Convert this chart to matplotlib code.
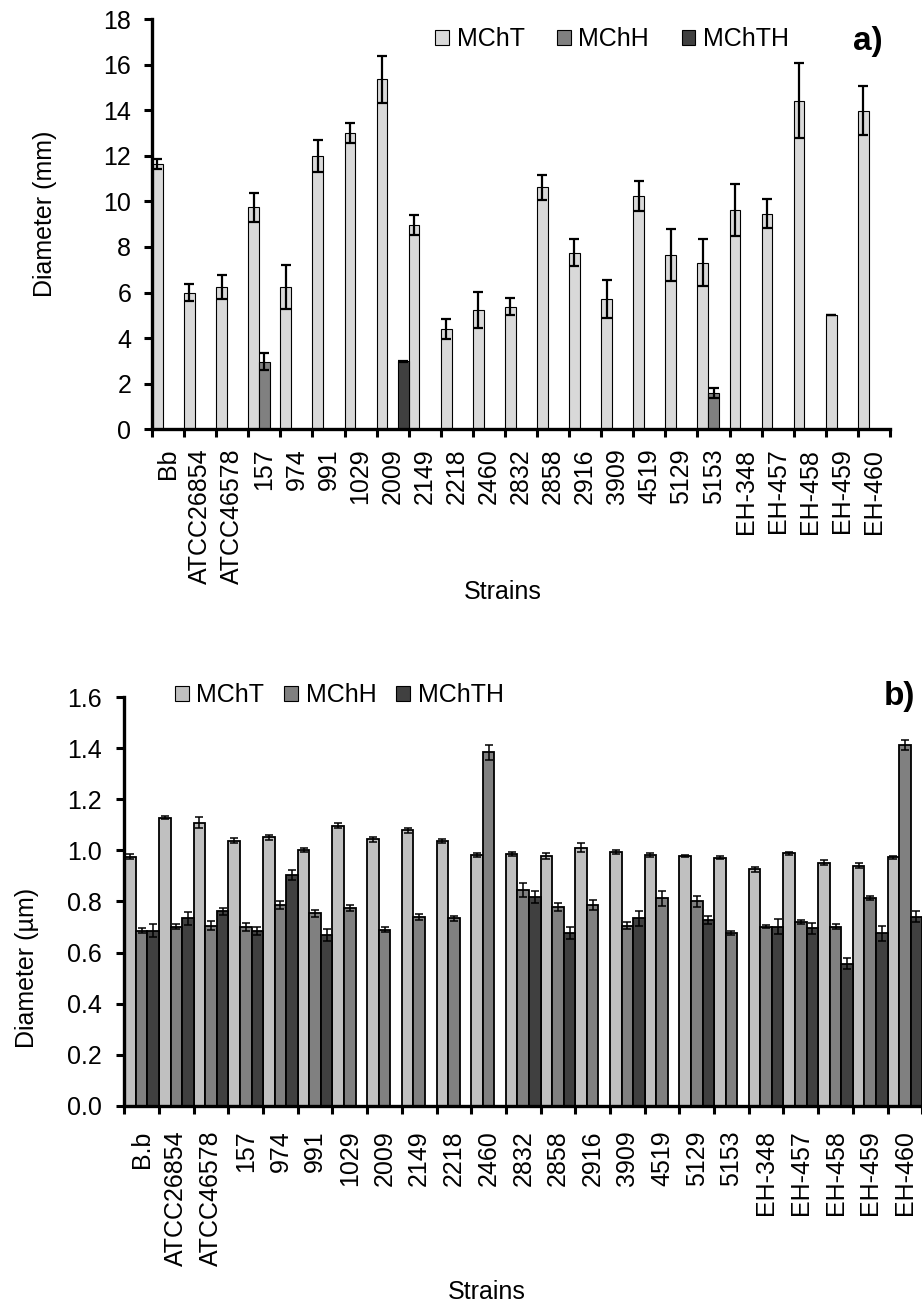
"""Colony and cell diameter of strains on three media, panels a) and b)."""
import numpy as np
import matplotlib
matplotlib.use('Agg')
import matplotlib.pyplot as plt
from matplotlib.patches import Patch

plt.rcParams['font.family'] = ['Liberation Sans', 'DejaVu Sans']
FS = 18

# Panel a data (colony diameter, mm)
strains_a = ['Bb', 'ATCC26854', 'ATCC46578', '157', '974', '991', '1029', '2009',
             '2149', '2218', '2460', '2832', '2858', '2916', '3909', '4519', '5129',
             '5153', 'EH-348', 'EH-457', 'EH-458', 'EH-459', 'EH-460']
nan = np.nan
mcht_a = [11.65, 6.0, 6.26, 9.74, 6.26, 12.0, 13.0, 15.37, 8.96, 4.39, 5.22, 5.38,
          10.62, 7.75, 5.71, 10.24, 7.64, 7.31, 9.62, 9.46, 14.43, 5.0, 13.99]
mcht_a_err = [0.21, 0.37, 0.53, 0.65, 0.97, 0.69, 0.43, 1.03, 0.43, 0.43, 0.79, 0.37,
              0.54, 0.6, 0.82, 0.65, 1.14, 1.04, 1.16, 0.63, 1.64, 0.0, 1.07]
mchh_a = [nan, nan, nan, 2.96, nan, nan, nan, nan, nan, nan, nan, nan,
          nan, nan, nan, nan, nan, 1.61, nan, nan, nan, nan, nan]
mchh_a_err = [nan, nan, nan, 0.37, nan, nan, nan, nan, nan, nan, nan, nan,
              nan, nan, nan, nan, nan, 0.22, nan, nan, nan, nan, nan]
mchth_a = [nan, nan, nan, nan, nan, nan, nan, 2.99, nan, nan, nan, nan,
           nan, nan, nan, nan, nan, nan, nan, nan, nan, nan, nan]
mchth_a_err = [nan, nan, nan, nan, nan, nan, nan, 0.02, nan, nan, nan, nan,
               nan, nan, nan, nan, nan, nan, nan, nan, nan, nan, nan]

# Panel b data (cell diameter, um)
strains_b = ['B.b'] + strains_a[1:]
mcht_b = [0.976, 1.128, 1.109, 1.037, 1.052, 1.003, 1.096, 1.044, 1.078, 1.036, 0.982,
          0.985, 0.978, 1.011, 0.992, 0.982, 0.978, 0.972, 0.926, 0.989, 0.952, 0.94, 0.973]
mcht_b_err = [0.01, 0.007, 0.02, 0.01, 0.01, 0.008, 0.01, 0.01, 0.01, 0.008, 0.006,
              0.008, 0.01, 0.016, 0.008, 0.006, 0.005, 0.005, 0.01, 0.006, 0.01, 0.01, 0.006]
mchh_b = [0.686, 0.702, 0.706, 0.70, 0.787, 0.754, 0.774, 0.689, 0.741, 0.735, 1.384,
          0.845, 0.78, 0.787, 0.706, 0.813, 0.80, 0.676, 0.702, 0.721, 0.702, 0.813, 1.413]
mchh_b_err = [0.01, 0.01, 0.016, 0.015, 0.015, 0.013, 0.012, 0.01, 0.012, 0.01, 0.03,
              0.027, 0.016, 0.02, 0.013, 0.03, 0.023, 0.008, 0.007, 0.008, 0.008, 0.008, 0.02]
mchth_b = [0.686, 0.734, 0.761, 0.686, 0.905, 0.669, nan, nan, nan, nan, nan,
           0.819, 0.676, nan, 0.734, nan, 0.728, nan, 0.702, 0.695, 0.556, 0.676, 0.741]
mchth_b_err = [0.025, 0.026, 0.015, 0.016, 0.02, 0.023, nan, nan, nan, nan, nan,
               0.024, 0.023, nan, 0.03, nan, 0.016, nan, 0.03, 0.022, 0.022, 0.03, 0.02]

series = ['MChT', 'MChH', 'MChTH']
colors_a = ['#d9d9d9', '#808080', '#404040']
colors_b = ['#c0c0c0', '#808080', '#404040']


def draw_panel(ax, strains, values, errors, colors, edge_lw, err_lw, capsize):
    x = np.arange(len(strains))
    w = 1 / 3
    for k, (vals, errs, col) in enumerate(zip(values, errors, colors)):
        vals = np.array(vals, dtype=float)
        errs = np.array(errs, dtype=float)
        ok = ~np.isnan(vals)
        xs = x[ok] + (k - 1) * w
        ax.bar(xs, vals[ok], width=w, color=col, edgecolor='black',
               linewidth=edge_lw, zorder=2)
        ax.errorbar(xs, vals[ok], yerr=errs[ok], fmt='none', ecolor='black',
                    elinewidth=err_lw, capsize=capsize, capthick=err_lw, zorder=3)
    ax.set_xlim(-0.5, len(strains) - 0.5)
    # labels at centres, tick marks on the category boundaries
    ax.set_xticks(x, strains, rotation=90, fontsize=FS)
    ax.set_xticks(np.arange(len(strains) + 1) - 0.5, minor=True)
    ax.tick_params(axis='x', which='major', length=0)
    ax.tick_params(axis='x', which='minor', length=6, width=2.2, direction='out')
    ax.tick_params(axis='y', length=6, width=2.2, labelsize=FS)
    for s in ['top', 'right']:
        ax.spines[s].set_visible(False)
    for s in ['left', 'bottom']:
        ax.spines[s].set_linewidth(2.4)


fig = plt.figure(figsize=(9.22, 13.05), dpi=100)

# Panel a
ax1 = fig.add_axes([0.1649, 0.6711, 0.8004, 0.3142])
draw_panel(ax1, strains_a, [mcht_a, mchh_a, mchth_a],
           [mcht_a_err, mchh_a_err, mchth_a_err], colors_a, 0.8, 1.6, 3.6)
ax1.set_ylim(0, 18)
ax1.set_yticks(np.arange(0, 19, 2))
ax1.tick_params(axis='y', pad=9)
ax1.tick_params(axis='x', which='major', pad=14)
fig.text(0.049, 0.836, 'Diameter (mm)', rotation=90, ha='center', va='center', fontsize=FS)
fig.text(0.5456, 0.5464, 'Strains', ha='center', va='center', fontsize=FS)
fig.text(0.941, 0.968, 'a)', ha='center', va='center', fontsize=24, fontweight='bold')
handles_a = [Patch(facecolor=c, edgecolor='black', linewidth=0.8) for c in colors_a]
fig.legend(handles_a, series, loc='center', bbox_to_anchor=(0.664, 0.970), ncol=3,
           frameon=False, fontsize=FS, handlelength=0.55, handleheight=0.55,
           handletextpad=0.3, columnspacing=1.3, borderpad=0)

# Panel b
ax2 = fig.add_axes([0.1348, 0.1525, 0.8655, 0.3134])
ax2.patch.set_alpha(0)
draw_panel(ax2, strains_b, [mcht_b, mchh_b, mchth_b],
           [mcht_b_err, mchh_b_err, mchth_b_err], colors_b, 1.3, 1.1, 3.2)
ax2.set_ylim(0, 1.6)
ax2.set_yticks(np.arange(0, 1.61, 0.2))
ax2.yaxis.set_major_formatter(matplotlib.ticker.FormatStrFormatter('%.1f'))
ax2.tick_params(axis='y', pad=10)
ax2.tick_params(axis='x', which='major', pad=17.5)
fig.text(0.029, 0.258, 'Diameter (\u00b5m)', rotation=90, ha='center', va='center', fontsize=FS)
fig.text(0.528, 0.0100, 'Strains', ha='center', va='center', fontsize=FS)
fig.text(0.976, 0.466, 'b)', ha='center', va='center', fontsize=24, fontweight='bold')
handles_b = [Patch(facecolor=c, edgecolor='black', linewidth=0.8) for c in colors_b]
fig.legend(handles_b, series, loc='center', bbox_to_anchor=(0.368, 0.4674), ncol=3,
           frameon=False, fontsize=FS, handlelength=0.55, handleheight=0.55,
           handletextpad=0.3, columnspacing=0.8, borderpad=0)

fig.savefig('out.png', dpi=100)
